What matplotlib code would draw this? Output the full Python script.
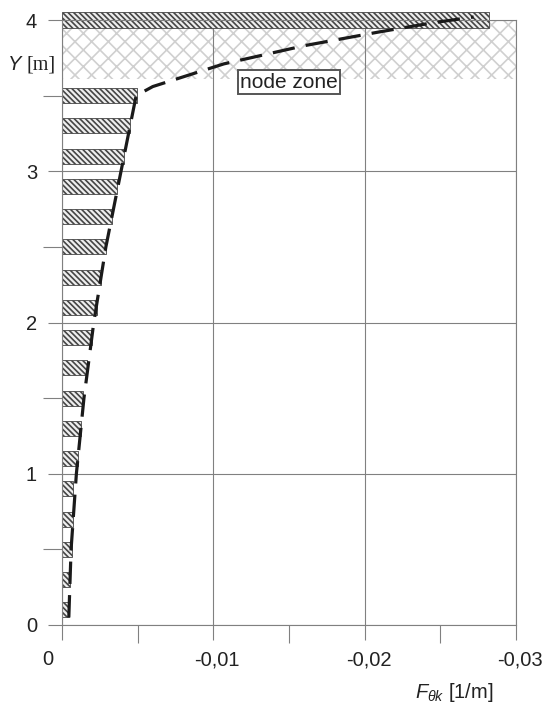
import numpy as np
import matplotlib
matplotlib.use("Agg")
import matplotlib.pyplot as plt
import matplotlib.transforms as mtransforms

plt.rcParams['font.family'] = ['Liberation Sans', 'DejaVu Sans']
plt.rcParams['mathtext.fontset'] = 'custom'
plt.rcParams['mathtext.it'] = 'Liberation Sans:italic'
plt.rcParams['mathtext.rm'] = 'Liberation Sans'
plt.rcParams['hatch.linewidth'] = 1.2

# hatched bars (discrete values along the height)
bar_y = [0.1, 0.3, 0.5, 0.7, 0.9, 1.1, 1.3, 1.5, 1.7, 1.9,
         2.1, 2.3, 2.5, 2.7, 2.9, 3.1, 3.3, 3.5]
bar_f = [-0.00048, -0.00053, -0.00064, -0.00070, -0.00075, -0.00108,
         -0.00124, -0.00137, -0.00163, -0.00197, -0.0023, -0.0026,
         -0.0029, -0.0033, -0.00364, -0.0041, -0.0045, -0.00495]
top_y = [4.0]
top_f = [-0.0282]

# dashed curve
line_y = [0.05, 0.5, 1.0, 1.5, 2.0, 2.5, 3.0, 3.5, 3.56, 3.71, 3.83, 3.92, 3.98, 4.02]
line_f = [-0.00045, -0.0006, -0.00095, -0.00145, -0.0021, -0.0029, -0.0039,
          -0.0049, -0.0060, -0.0107, -0.016, -0.0209, -0.0244, -0.0272]

node_zone = (3.61, 4.0)

x_ticks = [0, -0.01, -0.02, -0.03]
x_labels = ['0', '-0,01', '-0,02', '-0,03']
y_ticks = [0, 1, 2, 3, 4]
y_labels = ['0', '1', '2', '3', '4']

gray = '#808080'

fig = plt.figure(figsize=(5.45, 7.07), dpi=100)
ax = fig.add_axes([62 / 545, 82 / 707, 454 / 545, 605 / 707])

# node zone crosshatch
ax.axhspan(node_zone[0], node_zone[1], facecolor='none', edgecolor='#d0d0d0',
           hatch='xx', linewidth=0, zorder=0.5)

hatch = '\\' * 6
ax.barh(bar_y, bar_f, height=0.1, left=0, color='#eeeeee', edgecolor='#454545',
        hatch=hatch, linewidth=0.6, zorder=2)
ax.barh(top_y, top_f, height=0.1, left=0, color='#eeeeee', edgecolor='#454545',
        hatch=hatch, linewidth=0.6, zorder=2, clip_on=False)

ax.plot(line_f, line_y, color='#1a1a1a', linewidth=2.3, dashes=(7, 3.5),
        zorder=3, clip_on=False)

ax.text(-0.015, 3.59, 'node zone', fontsize=15, ha='center', va='center',
        color='#222222', zorder=4,
        bbox=dict(boxstyle='square,pad=0.12', facecolor='white',
                  edgecolor='#555555', linewidth=1.4))

ax.set_xlim(0, -0.03)
ax.set_ylim(0, 4)
ax.set_xticks(x_ticks, x_labels)
ax.set_xticks([-0.005, -0.015, -0.025], minor=True)
ax.set_yticks(y_ticks, y_labels)
ax.set_yticks([0.5, 1.5, 2.5, 3.5], minor=True)

ax.grid(True, which='major', color=gray, linewidth=0.8, zorder=0)
ax.set_axisbelow(True)
for s in ax.spines.values():
    s.set_color(gray)
    s.set_linewidth(0.8)

ax.tick_params(axis='x', which='major', length=11, width=0.8, color=gray,
               labelsize=14.5, pad=7, labelcolor='#222222')
ax.tick_params(axis='x', which='minor', length=13, width=0.8, color=gray)
ax.tick_params(axis='y', which='major', length=10, width=0.8, color=gray,
               labelsize=14.5, pad=8, labelcolor='#222222')
ax.tick_params(axis='y', which='minor', length=14, width=0.8, color=gray)

# shift x tick labels like the reference
for i, lab in enumerate(ax.get_xticklabels()):
    dx = -14 if i == 0 else 4
    lab.set_transform(lab.get_transform() +
                      mtransforms.ScaledTranslation(dx / 100, 0, fig.dpi_scale_trans))

fig.text(8 / 545, 642 / 707, 'Y', fontsize=14.5, style='italic',
         va='center', color='#222222')
fig.text(27 / 545, 642 / 707, '[m]', fontsize=14.5, family='Liberation Serif',
         va='center', color='#222222')
fig.text(415 / 545, 15 / 707, r'$F_{\theta k}$ [1/m]', fontsize=14.5,
         va='center', color='#222222')

fig.savefig('out.png', dpi=100)
